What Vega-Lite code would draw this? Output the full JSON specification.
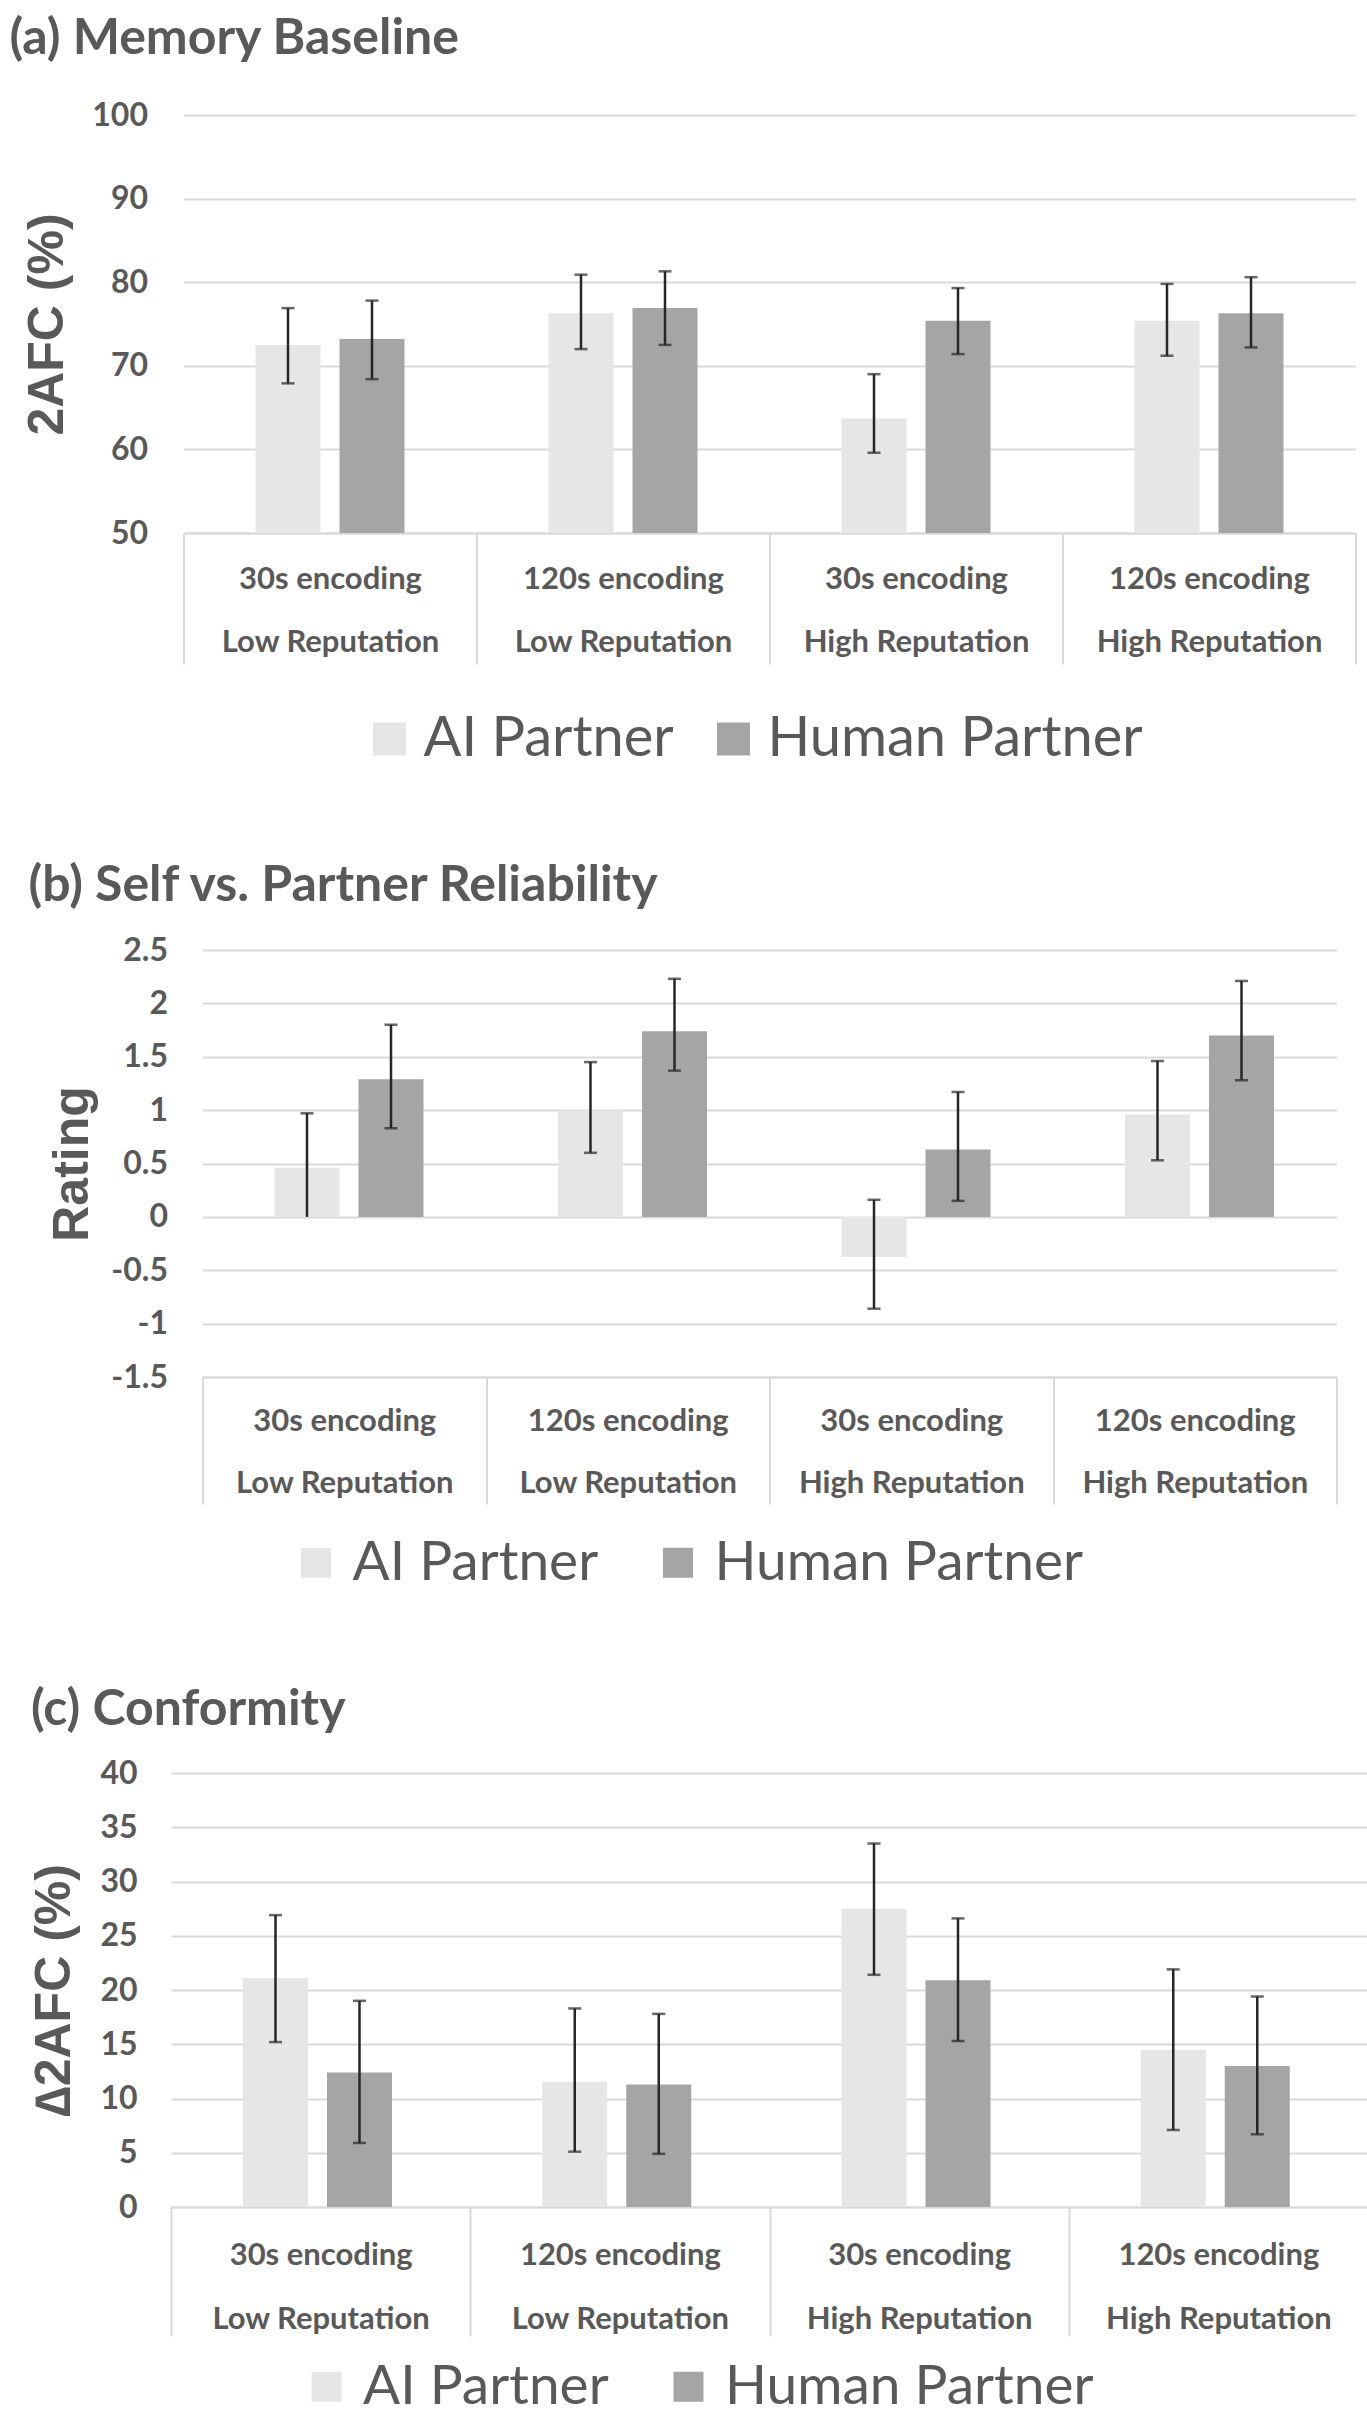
{
  "$schema": "https://vega.github.io/schema/vega-lite/v6.json",
  "background": "white",
  "padding": {"left": 9, "top": 14, "right": 0, "bottom": 0},
  "spacing": 94,
  "center": true,
  "resolve": {"scale": {"color": "independent"}, "legend": {"color": "independent"}},
  "datasets": {
    "a": [
      {"cat": "30s encoding|Low Reputation", "partner": "AI Partner", "value": 72.5, "hi": 76.9, "lo": 67.9, "loCap": 67.9},
      {"cat": "30s encoding|Low Reputation", "partner": "Human Partner", "value": 73.2, "hi": 77.8, "lo": 68.4, "loCap": 68.4},
      {"cat": "120s encoding|Low Reputation", "partner": "AI Partner", "value": 76.3, "hi": 80.9, "lo": 72.0, "loCap": 72.0},
      {"cat": "120s encoding|Low Reputation", "partner": "Human Partner", "value": 76.9, "hi": 81.3, "lo": 72.5, "loCap": 72.5},
      {"cat": "30s encoding|High Reputation", "partner": "AI Partner", "value": 63.7, "hi": 69.0, "lo": 59.6, "loCap": 59.6},
      {"cat": "30s encoding|High Reputation", "partner": "Human Partner", "value": 75.4, "hi": 79.3, "lo": 71.4, "loCap": 71.4},
      {"cat": "120s encoding|High Reputation", "partner": "AI Partner", "value": 75.4, "hi": 79.8, "lo": 71.2, "loCap": 71.2},
      {"cat": "120s encoding|High Reputation", "partner": "Human Partner", "value": 76.3, "hi": 80.6, "lo": 72.2, "loCap": 72.2}
    ],
    "b": [
      {"cat": "30s encoding|Low Reputation", "partner": "AI Partner", "value": 0.46, "hi": 0.97, "lo": 0.0, "loCap": null},
      {"cat": "30s encoding|Low Reputation", "partner": "Human Partner", "value": 1.29, "hi": 1.80, "lo": 0.83, "loCap": 0.83},
      {"cat": "120s encoding|Low Reputation", "partner": "AI Partner", "value": 1.0, "hi": 1.45, "lo": 0.60, "loCap": 0.60},
      {"cat": "120s encoding|Low Reputation", "partner": "Human Partner", "value": 1.74, "hi": 2.23, "lo": 1.37, "loCap": 1.37},
      {"cat": "30s encoding|High Reputation", "partner": "AI Partner", "value": -0.375, "hi": 0.16, "lo": -0.86, "loCap": -0.86},
      {"cat": "30s encoding|High Reputation", "partner": "Human Partner", "value": 0.63, "hi": 1.17, "lo": 0.15, "loCap": 0.15},
      {"cat": "120s encoding|High Reputation", "partner": "AI Partner", "value": 0.96, "hi": 1.46, "lo": 0.53, "loCap": 0.53},
      {"cat": "120s encoding|High Reputation", "partner": "Human Partner", "value": 1.70, "hi": 2.21, "lo": 1.28, "loCap": 1.28}
    ],
    "c": [
      {"cat": "30s encoding|Low Reputation", "partner": "AI Partner", "value": 21.1, "hi": 26.9, "lo": 15.2, "loCap": 15.2},
      {"cat": "30s encoding|Low Reputation", "partner": "Human Partner", "value": 12.4, "hi": 19.0, "lo": 5.9, "loCap": 5.9},
      {"cat": "120s encoding|Low Reputation", "partner": "AI Partner", "value": 11.55, "hi": 18.3, "lo": 5.1, "loCap": 5.1},
      {"cat": "120s encoding|Low Reputation", "partner": "Human Partner", "value": 11.3, "hi": 17.8, "lo": 4.9, "loCap": 4.9},
      {"cat": "30s encoding|High Reputation", "partner": "AI Partner", "value": 27.5, "hi": 33.5, "lo": 21.4, "loCap": 21.4},
      {"cat": "30s encoding|High Reputation", "partner": "Human Partner", "value": 20.9, "hi": 26.6, "lo": 15.3, "loCap": 15.3},
      {"cat": "120s encoding|High Reputation", "partner": "AI Partner", "value": 14.5, "hi": 21.9, "lo": 7.1, "loCap": 7.1},
      {"cat": "120s encoding|High Reputation", "partner": "Human Partner", "value": 13.0, "hi": 19.4, "lo": 6.7, "loCap": 6.7}
    ]
  },
  "vconcat": [
    {
      "title": {"text": "(a) Memory Baseline", "dx": -174, "offset": 35},
      "width": 1172,
      "height": 418,
      "data": {"name": "a"},
      "encoding": {
        "x": {"field": "cat", "type": "nominal", "sort": null, "title": null,
              "scale": {"paddingInner": 0, "paddingOuter": 0},
              "axis": {"tickSize": 131, "labelPadding": -100, "labelLineHeight": 63}},
        "xOffset": {"field": "partner", "type": "nominal", "sort": null,
                    "scale": {"paddingInner": 0.226, "paddingOuter": 0.857}}
      },
      "layer": [
        {
          "mark": {"type": "bar"},
          "encoding": {
            "y": {"field": "value", "type": "quantitative", "title": "2AFC (%)",
                  "scale": {"domain": [50, 100], "zero": false, "nice": false},
                  "axis": {"values": [50, 60, 70, 80, 90, 100], "labelPadding": 36, "titlePadding": 19}},
            "y2": {"datum": 50},
            "color": {"field": "partner", "type": "nominal", "title": null,
                      "scale": {"domain": ["AI Partner", "Human Partner"], "range": ["#e7e6e6", "#a5a5a5"]},
                      "legend": {"orient": "none", "legendX": 178, "legendY": 596, "direction": "horizontal", "symbolSize": 1089, "columnPadding": 31, "labelOffset": 6, "labelFontSize": 56}}
          }
        },
        {
          "mark": {"type": "rule", "color": "#262626", "strokeWidth": 2.5},
          "encoding": {"y": {"field": "hi", "type": "quantitative", "title": "2AFC (%)"}, "y2": {"field": "lo"}}
        },
        {
          "mark": {"type": "tick", "color": "#262626", "size": 13, "thickness": 2.5},
          "encoding": {"y": {"field": "hi", "type": "quantitative", "title": "2AFC (%)"}}
        },
        {
          "mark": {"type": "tick", "color": "#262626", "size": 13, "thickness": 2.5},
          "encoding": {"y": {"field": "loCap", "type": "quantitative", "title": "2AFC (%)"}}
        }
      ]
    },
    {
      "title": {"text": "(b) Self vs. Partner Reliability", "dx": -174, "offset": 23},
      "width": 1134,
      "height": 427,
      "data": {"name": "b"},
      "encoding": {
        "x": {"field": "cat", "type": "nominal", "sort": null, "title": null,
              "scale": {"paddingInner": 0, "paddingOuter": 0},
              "axis": {"tickSize": 127, "labelPadding": -98, "labelLineHeight": 62}},
        "xOffset": {"field": "partner", "type": "nominal", "sort": null,
                    "scale": {"paddingInner": 0.239, "paddingOuter": 0.859}}
      },
      "layer": [
        {
          "mark": {"type": "bar"},
          "encoding": {
            "y": {"field": "value", "type": "quantitative", "title": "Rating",
                  "scale": {"domain": [-1.5, 2.5], "nice": false},
                  "axis": {"values": [-1.5, -1, -0.5, 0, 0.5, 1, 1.5, 2, 2.5], "labelExpr": "toString(datum.value)", "labelPadding": 35, "titlePadding": 13}},
            "y2": {"datum": 0},
            "color": {"field": "partner", "type": "nominal", "title": null,
                      "scale": {"domain": ["AI Partner", "Human Partner"], "range": ["#e7e6e6", "#a5a5a5"]},
                      "legend": {"orient": "none", "legendX": 86, "legendY": 585, "direction": "horizontal", "symbolSize": 900, "columnPadding": 52, "labelOffset": 9, "labelFontSize": 55}}
          }
        },
        {
          "mark": {"type": "rule", "color": "#262626", "strokeWidth": 2.5},
          "encoding": {"y": {"field": "hi", "type": "quantitative", "title": "Rating"}, "y2": {"field": "lo"}}
        },
        {
          "mark": {"type": "tick", "color": "#262626", "size": 13, "thickness": 2.5},
          "encoding": {"y": {"field": "hi", "type": "quantitative", "title": "Rating"}}
        },
        {
          "mark": {"type": "tick", "color": "#262626", "size": 13, "thickness": 2.5},
          "encoding": {"y": {"field": "loCap", "type": "quantitative", "title": "Rating"}}
        }
      ]
    },
    {
      "title": {"text": "(c) Conformity", "dx": -140, "offset": 22},
      "width": 1197,
      "height": 434,
      "data": {"name": "c"},
      "encoding": {
        "x": {"field": "cat", "type": "nominal", "sort": null, "title": null,
              "scale": {"paddingInner": 0, "paddingOuter": 0},
              "axis": {"tickSize": 129, "labelPadding": -96, "labelLineHeight": 64}},
        "xOffset": {"field": "partner", "type": "nominal", "sort": null,
                    "scale": {"paddingInner": 0.202, "paddingOuter": 0.881}}
      },
      "layer": [
        {
          "mark": {"type": "bar"},
          "encoding": {
            "y": {"field": "value", "type": "quantitative", "title": "∆2AFC (%)",
                  "scale": {"domain": [0, 40], "nice": false},
                  "axis": {"values": [0, 5, 10, 15, 20, 25, 30, 35, 40], "labelPadding": 34, "titlePadding": 20}},
            "y2": {"datum": 0},
            "color": {"field": "partner", "type": "nominal", "title": null,
                      "scale": {"domain": ["AI Partner", "Human Partner"], "range": ["#e7e6e6", "#a5a5a5"]},
                      "legend": {"orient": "none", "legendX": 128, "legendY": 586, "direction": "horizontal", "symbolSize": 900, "columnPadding": 52, "labelOffset": 9, "labelFontSize": 55}}
          }
        },
        {
          "mark": {"type": "rule", "color": "#262626", "strokeWidth": 2.5},
          "encoding": {"y": {"field": "hi", "type": "quantitative", "title": "∆2AFC (%)"}, "y2": {"field": "lo"}}
        },
        {
          "mark": {"type": "tick", "color": "#262626", "size": 13, "thickness": 2.5},
          "encoding": {"y": {"field": "hi", "type": "quantitative", "title": "∆2AFC (%)"}}
        },
        {
          "mark": {"type": "tick", "color": "#262626", "size": 13, "thickness": 2.5},
          "encoding": {"y": {"field": "loCap", "type": "quantitative", "title": "∆2AFC (%)"}}
        }
      ]
    }
  ],
  "config": {
    "view": {"stroke": null},
    "font": "Lato",
    "title": {"anchor": "start", "frame": "group", "font": "Lato", "fontSize": 50, "fontWeight": "bold", "color": "#595959"},
    "axis": {"labelColor": "#595959", "titleColor": "#595959"},
    "axisY": {"domain": false, "ticks": false, "grid": true, "gridColor": "#d9d9d9", "gridWidth": 2,
              "labelFont": "Lato", "labelFontSize": 32, "labelFontWeight": "bold",
              "titleFont": "Liberation Sans", "titleFontSize": 50, "titleFontWeight": "bold"},
    "axisX": {"domain": true, "domainColor": "#d9d9d9", "domainWidth": 2, "ticks": true, "tickColor": "#d9d9d9", "tickWidth": 2,
              "tickBand": "extent", "grid": false, "labelAngle": 0, "labelFont": "Lato", "labelFontSize": 31, "labelFontWeight": "bold",
              "labelBaseline": "top", "labelExpr": "split(datum.label, '|')", "labelLimit": 0},
    "legend": {"title": null, "symbolType": "square", "symbolStrokeWidth": 0, "labelFont": "Lato",
               "labelColor": "#595959", "labelLimit": 0}
  }
}
